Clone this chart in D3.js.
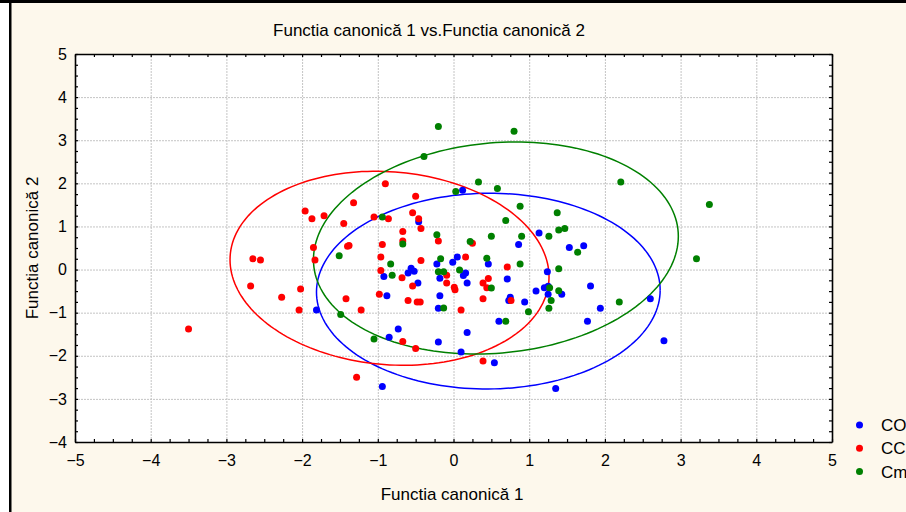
<!DOCTYPE html>
<html>
<head>
<meta charset="utf-8">
<script src="https://cdn.jsdelivr.net/npm/d3@7"></script>
<style>
body { margin: 0; background: #fff; }
svg text { font-family: "Liberation Sans", Arial, sans-serif; fill: #000; }
</style>
</head>
<body>
<svg id="chart" width="906" height="512"></svg>
<script>
// tick values
const xTicks = [-5, -4, -3, -2, -1, 0, 1, 2, 3, 4, 5];
const yTicks = [-4, -3, -2, -1, 0, 1, 2, 3, 4, 5];

// group names, as far as they are visible
const groups = ["CO", "CC", "Cm"];
const colors = ["#0000ff", "#ff0000", "#008000"];

// canonical scores: [f1, f2]
const coPoints = [
  [0.12, 1.84], [-0.46, 1.11], [1.13, 0.85], [0.86, 0.58], [1.53, 0.51], [1.72, 0.55],
  [0.05, 0.29], [-0.01, 0.17], [-0.22, 0.13], [0.46, 0.13], [1.24, -0.05], [-0.56, 0.03],
  [-0.60, -0.08], [-0.52, -0.04], [-0.92, -0.16], [0.16, -0.08], [0.13, -0.14], [0.71, -0.22],
  [-0.18, -0.20], [-0.47, -0.31], [0.18, -0.31], [-0.88, -0.61], [-0.18, -0.61], [-0.20, -0.90],
  [0.75, -0.64], [0.73, -0.72], [0.94, -0.75], [1.09, -0.50], [1.20, -0.42], [1.25, -0.39],
  [1.25, -0.57], [1.43, -0.57], [1.81, -0.38], [1.94, -0.90], [1.77, -1.20], [0.60, -1.20],
  [0.18, -1.46], [-0.73, -1.38], [-0.85, -1.57], [-0.20, -1.68], [0.10, -1.91], [0.54, -2.16],
  [-0.94, -2.71], [1.35, -2.76], [2.60, -0.68], [2.78, -1.65], [-1.81, -0.94]
];
const ccPoints = [
  [-0.90, 1.99], [-0.50, 1.70], [-1.05, 1.22], [-0.86, 1.18], [-0.54, 1.32], [-0.46, 1.18],
  [-0.43, 0.95], [-0.67, 0.88], [-0.67, 0.66], [-0.94, 0.58], [-0.20, 0.66], [0.25, 0.61],
  [-0.96, 0.29], [-0.43, 0.21], [0.16, 0.29], [0.71, 0.06], [-0.96, -0.02], [-0.68, -0.19],
  [-0.09, -0.13], [0.46, -0.21], [-0.54, -0.38], [-0.09, -0.31], [0.01, -0.41], [0.02, -0.47],
  [0.39, -0.31], [0.44, -0.42], [-0.98, -0.57], [-0.60, -0.72], [-0.48, -0.75], [-0.44, -0.75],
  [0.10, -0.94], [0.39, -0.68], [0.76, -0.72], [-0.67, -1.67], [-0.50, -1.83], [0.39, -2.12],
  [-1.96, 1.36], [-1.87, 1.18], [-1.71, 1.25], [-1.32, 1.55], [-1.45, 1.07], [-1.85, 0.51],
  [-1.83, 0.22], [-2.65, 0.25], [-2.55, 0.22], [-1.40, 0.54], [-1.38, 0.56], [-2.68, -0.38],
  [-2.02, -0.45], [-2.27, -0.64], [-2.04, -0.94], [-1.42, -0.68], [-1.22, -0.94], [-3.50, -1.38],
  [-1.28, -2.50]
];
const cmPoints = [
  [-0.20, 3.32], [0.80, 3.21], [-0.39, 2.62], [0.33, 2.03], [0.58, 1.88], [0.03, 1.81],
  [0.88, 1.47], [1.37, 1.32], [0.69, 1.14], [-0.94, 1.22], [-0.22, 0.81], [0.22, 0.65],
  [0.50, 0.77], [0.90, 0.77], [1.26, 0.77], [1.39, 0.92], [1.47, 0.95], [1.64, 0.40],
  [-0.67, 0.59], [-0.17, 0.25], [-0.83, 0.13], [-0.81, -0.13], [0.44, 0.26], [0.08, -0.01],
  [0.88, 0.13], [1.39, 0.02], [-0.20, -0.05], [-0.13, -0.05], [0.50, -0.43], [1.27, -0.42],
  [1.39, -0.49], [1.29, -0.72], [1.26, -0.90], [0.99, -0.98], [0.69, -1.20], [-0.13, -0.89],
  [-1.05, -1.61], [-1.51, 0.32], [-1.49, -1.04], [2.21, 2.03], [3.38, 1.51], [3.21, 0.25],
  [2.19, -0.75]
];

// confidence ellipses: [centre f1, centre f2, half-extent f1, half-extent f2, correlation]
const coEllipse = [0.46, -0.50, 2.27, 2.27, 0.01];
const ccEllipse = [-0.845, 0.03, 2.107, 2.25, -0.088];
const cmEllipse = [0.56, 0.50, 2.41, 2.46, 0.11];

const W = 906, H = 512;
const margin = { left: 75, right: 832, top: 54, bottom: 442 };

const svg = d3.select("#chart");

// window background and frame
svg.append("rect").attr("x", 0).attr("y", 0).attr("width", W).attr("height", H).attr("fill", "#fff");
svg.append("rect").attr("x", 11).attr("y", 3).attr("width", W - 11).attr("height", H - 3).attr("fill", "#fdf8ec");
svg.append("rect").attr("x", 0).attr("y", 0).attr("width", W).attr("height", 3).attr("fill", "#000");
svg.append("rect").attr("x", 9).attr("y", 0).attr("width", 2.5).attr("height", H).attr("fill", "#000");

const x = d3.scaleLinear().domain([-5, 5]).range([margin.left, margin.right]);
const y = d3.scaleLinear().domain([-4, 5]).range([margin.bottom, margin.top]);
const pw = margin.right - margin.left, ph = margin.bottom - margin.top;

svg.append("rect")
    .attr("x", margin.left).attr("y", margin.top)
    .attr("width", pw).attr("height", ph)
    .attr("fill", "#fff");

// grid
svg.append("g")
    .attr("transform", `translate(0,${margin.bottom})`)
    .call(d3.axisBottom(x).tickValues(xTicks.slice(1, -1)).tickSize(-ph).tickFormat(""))
    .call(g => g.select(".domain").remove())
    .call(g => g.selectAll("line").attr("stroke", "#c4c4c4").attr("stroke-dasharray", "2,1"));
svg.append("g")
    .attr("transform", `translate(${margin.left},0)`)
    .call(d3.axisLeft(y).tickValues(yTicks.slice(1, -1)).tickSize(-pw).tickFormat(""))
    .call(g => g.select(".domain").remove())
    .call(g => g.selectAll("line").attr("stroke", "#c4c4c4").attr("stroke-dasharray", "2,1"));

// ellipses
function ellipsePath(e) {
  const [cx, cy, sx, sy, r] = e;
  const k = Math.sqrt(1 - r * r);
  const pts = d3.range(0, 361, 2).map(a => {
    const t = a * Math.PI / 180;
    return [x(cx + sx * Math.cos(t)), y(cy + sy * (r * Math.cos(t) + k * Math.sin(t)))];
  });
  return d3.line()(pts);
}
[coEllipse, ccEllipse, cmEllipse].forEach((e, i) => {
  svg.append("path")
      .attr("d", ellipsePath(e))
      .attr("fill", "none")
      .attr("stroke", colors[i])
      .attr("stroke-width", 1.5);
});

// points
[coPoints, ccPoints, cmPoints].forEach((pts, i) => {
  svg.append("g").selectAll("circle")
    .data(pts)
    .join("circle")
      .attr("cx", d => x(d[0]))
      .attr("cy", d => y(d[1]))
      .attr("r", 3.5)
      .attr("fill", colors[i]);
});

// minor ticks on all four sides, pointing inward
const minorX = d3.range(-5, 5.001, 0.25);
const minorY = d3.range(-4, 5.001, 0.25);
function styleAxis(g) {
  g.select(".domain").attr("stroke", "#000").attr("stroke-width", 1.6);
  g.selectAll(".tick line").attr("stroke", "#000").attr("stroke-width", 1.2);
}
svg.append("g").attr("transform", `translate(0,${margin.bottom})`)
    .call(d3.axisBottom(x).tickValues(minorX).tickSize(-3).tickSizeOuter(0).tickFormat("")).call(styleAxis);
svg.append("g").attr("transform", `translate(0,${margin.top})`)
    .call(d3.axisTop(x).tickValues(minorX).tickSize(-3).tickSizeOuter(0).tickFormat("")).call(styleAxis);
svg.append("g").attr("transform", `translate(${margin.left},0)`)
    .call(d3.axisLeft(y).tickValues(minorY).tickSize(-3).tickSizeOuter(0).tickFormat("")).call(styleAxis);
svg.append("g").attr("transform", `translate(${margin.right},0)`)
    .call(d3.axisRight(y).tickValues(minorY).tickSize(-3).tickSizeOuter(0).tickFormat("")).call(styleAxis);

// tick labels
svg.append("g").attr("transform", `translate(0,${margin.bottom})`)
    .call(d3.axisBottom(x).tickValues(xTicks).tickSize(0).tickPadding(13))
    .call(g => g.select(".domain").remove())
    .call(g => g.selectAll("text").attr("font-size", 16).attr("font-family", null));
svg.append("g").attr("transform", `translate(${margin.left},0)`)
    .call(d3.axisLeft(y).tickValues(yTicks).tickSize(0).tickPadding(8))
    .call(g => g.select(".domain").remove())
    .call(g => g.selectAll("text").attr("font-size", 16).attr("font-family", null));

// titles
svg.append("text")
    .attr("x", 429).attr("y", 36)
    .attr("text-anchor", "middle")
    .attr("font-size", 17)
    .text("Functia canonică 1 vs.Functia canonică 2");
svg.append("text")
    .attr("x", 452).attr("y", 500)
    .attr("text-anchor", "middle")
    .attr("font-size", 17)
    .text("Functia canonică 1");
svg.append("text")
    .attr("transform", `translate(38,248) rotate(-90)`)
    .attr("text-anchor", "middle")
    .attr("font-size", 17)
    .text("Functia canonică 2");

// legend
const legend = svg.append("g");
groups.forEach((name, i) => {
  const ly = 425 + i * 23.3;
  legend.append("circle").attr("cx", 859.5).attr("cy", ly).attr("r", 3.5).attr("fill", colors[i]);
  legend.append("text").attr("x", 881).attr("y", ly + 6).attr("font-size", 17).text(name);
});
</script>
</body>
</html>
